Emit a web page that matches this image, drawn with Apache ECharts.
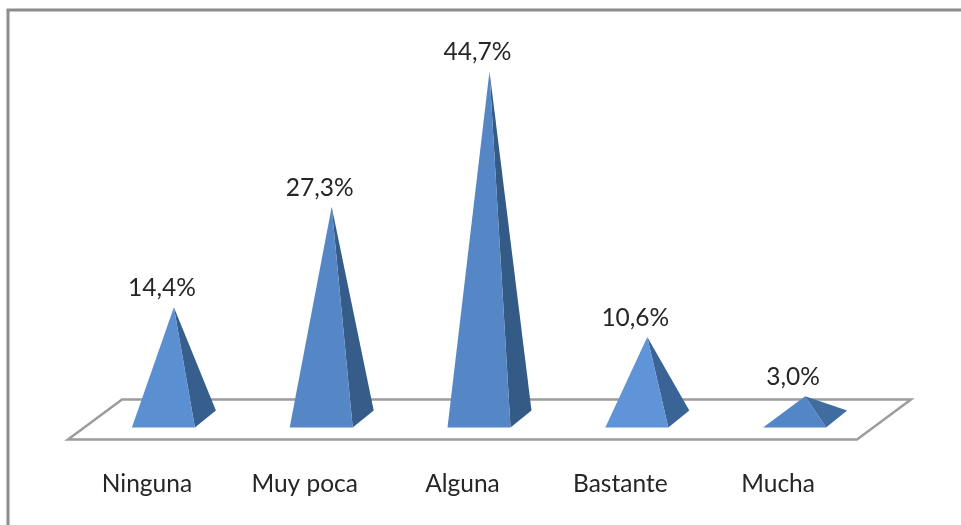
<!DOCTYPE html>
<html>
<head>
<meta charset="utf-8">
<style>html,body{margin:0;padding:0;background:#fff}#c{width:961px;height:525px}</style>
<script src="https://cdn.jsdelivr.net/npm/echarts@6/dist/echarts.min.js"></script>
</head>
<body>
<div id="c"></div>
<script>
const categories = ['Ninguna', 'Muy poca', 'Alguna', 'Bastante', 'Mucha'];
const values = [14.4, 27.3, 44.7, 10.6, 3.0];
const frontColors = ['#5a8fd1', '#5587c6', '#5587c6', '#5f95d8', '#5386c6'];
const sideColors = ['#375f8e', '#365c8a', '#345a86', '#3a6496', '#416c9f'];

const FONT = 'Lato, "Open Sans", sans-serif';
const TEXT = '#262626';
const HALF_BASE = 31.5, SKEW_X = 10.5, SKEW_Y = 8;
const FLOOR_X = 27, FLOOR_Y = 20;

const chart = echarts.init(document.getElementById('c'), null, {renderer: 'canvas'});

function renderFloor(params, api) {
  const band = api.size([1, 0])[0];
  const first = api.coord([0, 0]);
  const last = api.coord([categories.length - 1, 0]);
  const l = first[0] - band / 2, r = last[0] + band / 2, y = first[1];
  return {
    type: 'polygon',
    shape: {points: [
      [l + FLOOR_X, y - FLOOR_Y], [r + FLOOR_X, y - FLOOR_Y],
      [r - FLOOR_X, y + FLOOR_Y], [l - FLOOR_X, y + FLOOR_Y]
    ]},
    style: {fill: '#fff', stroke: '#9c9c9c', lineWidth: 2.5}
  };
}

function renderPyramid(params, api) {
  const i = api.value(0);
  const apex = api.coord([i, api.value(1)]);
  const c = api.coord([i, 0]);
  const frontY = c[1] + SKEW_Y;
  const fl = [c[0] - SKEW_X - HALF_BASE, frontY];
  const fr = [c[0] - SKEW_X + HALF_BASE, frontY];
  const br = [c[0] + SKEW_X + HALF_BASE, c[1] - SKEW_Y - 1];
  return {
    type: 'group',
    children: [
      {type: 'polygon', shape: {points: [apex, fr, br]}, style: {fill: sideColors[i]}},
      {type: 'polygon', shape: {points: [apex, fl, fr]}, style: {fill: frontColors[i]}},
      {type: 'text', x: apex[0] - 12, y: apex[1] - 19, style: {
        text: values[i].toFixed(1).replace('.', ',') + '%',
        fill: TEXT, font: '24.5px ' + FONT, align: 'center', verticalAlign: 'middle'
      }}
    ]
  };
}

chart.setOption({
  animation: false,
  backgroundColor: '#fff',
  grid: {left: 95, top: 30, width: 789, height: 389.5},
  xAxis: {
    type: 'category',
    data: categories,
    axisLine: {show: false},
    axisTick: {show: false},
    axisLabel: {
      interval: 0, margin: 52, color: TEXT, fontFamily: FONT, fontSize: 24.5,
      padding: [0, 54, 0, 0]
    }
  },
  yAxis: {type: 'value', min: 0, max: 50, show: false, splitLine: {show: false}},
  graphic: [{
    type: 'polyline', silent: true,
    shape: {points: [[8, 525], [8, 10], [961, 10]]},
    style: {fill: null, stroke: '#8c8c8c', lineWidth: 3}
  }],
  series: [
    {
      type: 'custom', z: 1, renderItem: renderFloor, silent: true,
      data: [[0, 0]], encode: {x: 0, y: 1}
    },
    {
      type: 'custom', z: 2, renderItem: renderPyramid, silent: true,
      data: values.map((v, i) => [i, v]), encode: {x: 0, y: 1}
    }
  ]
});
</script>
</body>
</html>
